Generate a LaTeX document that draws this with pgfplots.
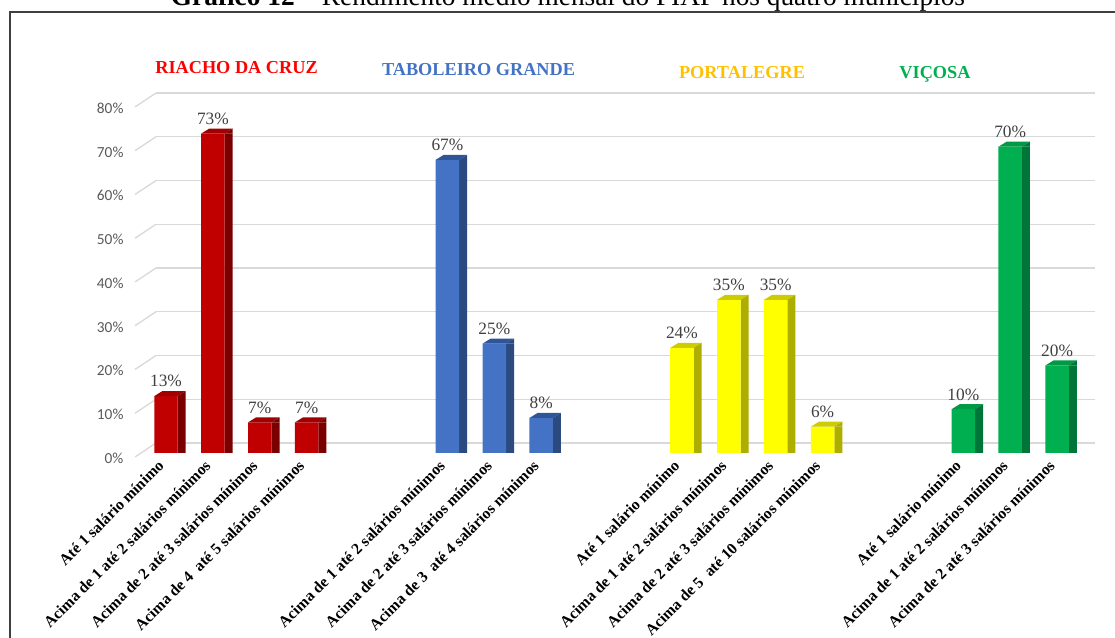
\documentclass[border=0pt]{standalone}
\usepackage{pgfplots}
\pgfplotsset{compat=1.18}
\usepackage{fontspec}
\setmainfont{Liberation Serif}
\newfontfamily\carlito{Carlito}

\definecolor{redF}{HTML}{C00000}\definecolor{redT}{HTML}{A00000}\definecolor{redS}{HTML}{7A0000}
\definecolor{bluF}{HTML}{4472C4}\definecolor{bluT}{HTML}{2F5597}\definecolor{bluS}{HTML}{2A4A80}
\definecolor{yelF}{HTML}{FFFF00}\definecolor{yelT}{HTML}{CCCC00}\definecolor{yelS}{HTML}{AEAE00}
\definecolor{grnF}{HTML}{00B050}\definecolor{grnT}{HTML}{009944}\definecolor{grnS}{HTML}{00753A}
\definecolor{gridc}{HTML}{D9D9D9}
\definecolor{ytc}{HTML}{595959}
\definecolor{lblc}{HTML}{404040}
\definecolor{frame}{HTML}{3F3F3F}
\definecolor{titR}{HTML}{FF0000}\definecolor{titB}{HTML}{4472C4}
\definecolor{titY}{HTML}{FFC000}\definecolor{titG}{HTML}{00B050}

\newcommand\declaretop[3]{%
  \pgfdeclareplotmark{#1}{%
    \pgfsetfillcolor{#2}%
    \pgfpathmoveto{\pgfpoint{-8.8bp}{0bp}}%
    \pgfpathlineto{\pgfpoint{8.8bp}{0bp}}%
    \pgfpathlineto{\pgfpoint{14.8bp}{3.75bp}}%
    \pgfpathlineto{\pgfpoint{-2.8bp}{3.75bp}}%
    \pgfpathclose\pgfusepath{fill}%
    \pgfsetfillcolor{#3}%
    \pgfpathmoveto{\pgfpoint{8.8bp}{0bp}}%
    \pgfpathlineto{\pgfpoint{14.8bp}{3.75bp}}%
    \pgfpathlineto{\pgfpoint{14.8bp}{0bp}}%
    \pgfpathclose\pgfusepath{fill}%
  }}
\declaretop{topR}{redT}{redS}
\declaretop{topB}{bluT}{bluS}
\declaretop{topY}{yelT}{yelS}
\declaretop{topG}{grnT}{grnS}

\begin{document}
\begin{tikzpicture}
\begin{axis}[
  x=35.175bp, y=3.28125bp,
  anchor=origin, at={(124.5bp,138.75bp)},
  xmin=-0.21, xmax=19.8, ymin=-2, ymax=82.3,
  clip=false,
  axis line style={draw=none},
  major tick length=0pt,
  ytick={2.3,12.3,22.3,32.3,42.3,52.3,62.3,72.3,82.3},
  yticklabels={0\%,10\%,20\%,30\%,40\%,50\%,60\%,70\%,80\%},
  ymajorgrids,
  grid style={draw=gridc, line width=1bp},
  yticklabel style={font=\carlito\fontsize{11.5bp}{13bp}\selectfont, text=ytc, xshift=-21bp, yshift=-11.5bp},
  xtick={0,1,2,3,6,7,8,11,12,13,14,17,18,19},
  xticklabels={Até 1 salário mínimo,Acima de 1 até 2 salários mínimos,Acima de 2 até 3 salários mínimos,Acima de 4\ \ até 5 salários mínimos,
    Acima de 1 até 2 salários mínimos,Acima de 2 até 3 salários mínimos,Acima de 3\ \ até 4 salários mínimos,
    Até 1 salário mínimo,Acima de 1 até 2 salários mínimos,Acima de 2 até 3 salários mínimos,Acima de 5\ \ até 10 salários mínimos,
    Até 1 salário mínimo,Acima de 1 até 2 salários mínimos,Acima de 2 até 3 salários mínimos},
  xticklabel style={rotate=45, anchor=east, font=\bfseries\fontsize{11.8bp}{14bp}\selectfont, text=black, xshift=0bp, yshift=2bp},
  /pgf/number format/assume math mode=true,
  lbl/.style={nodes near coords={\pgfmathprintnumber[fixed,precision=0]{\pgfplotspointmeta}\%}},
  every node near coord/.append style={anchor=south, inner sep=0pt, yshift=6.5bp,
     font=\fontsize{13bp}{15bp}\selectfont, text=lblc},
]
\pgfplotsinvokeforeach{0,10,20,30,40,50,60,70,80}{
  \draw[gridc, line width=1bp] ([yshift=7.55bp]axis cs:-0.21,#1) -- ([yshift=-2.95bp]axis cs:-0.66,#1);
}
% Riacho da Cruz
\addplot[ybar, bar width=6bp, bar shift=11.8bp, fill=redS, draw=none] coordinates {(0,13)(1,73)(2,7)(3,7)};
\addplot[ybar, bar width=17.6bp, bar shift=0pt, fill=redF, draw=none, mark=topR, lbl] coordinates {(0,13)(1,73)(2,7)(3,7)};
% Taboleiro Grande
\addplot[ybar, bar width=6bp, bar shift=11.8bp, fill=bluS, draw=none] coordinates {(6,67)(7,25)(8,8)};
\addplot[ybar, bar width=17.6bp, bar shift=0pt, fill=bluF, draw=none, mark=topB, lbl] coordinates {(6,67)(7,25)(8,8)};
% Portalegre
\addplot[ybar, bar width=6bp, bar shift=11.8bp, fill=yelS, draw=none] coordinates {(11,24)(12,35)(13,35)(14,6)};
\addplot[ybar, bar width=17.6bp, bar shift=0pt, fill=yelF, draw=none, mark=topY, lbl] coordinates {(11,24)(12,35)(13,35)(14,6)};
% Viçosa
\addplot[ybar, bar width=6bp, bar shift=11.8bp, fill=grnS, draw=none] coordinates {(17,10)(18,70)(19,20)};
\addplot[ybar, bar width=17.6bp, bar shift=0pt, fill=grnF, draw=none, mark=topG, lbl] coordinates {(17,10)(18,70)(19,20)};
\end{axis}
\draw[frame, line width=1.5bp] (7.5bp,-20bp) -- (7.5bp,469.5bp) -- (870bp,469.5bp);
\node[anchor=base, font=\fontsize{20.5bp}{24bp}\selectfont] at (426bp,474bp)
  {\textbf{Gráfico 12} – Rendimento médio mensal do PIAF nos quatro municípios};
\node[font=\bfseries\fontsize{13.7bp}{16bp}\selectfont, text=titR] at (177.4bp,427.5bp) {RIACHO DA CRUZ};
\node[font=\bfseries\fontsize{13.7bp}{16bp}\selectfont, text=titB] at (358.9bp,426bp) {TABOLEIRO GRANDE};
\node[font=\bfseries\fontsize{13.7bp}{16bp}\selectfont, text=titY] at (556.5bp,423.75bp) {PORTALEGRE};
\node[font=\bfseries\fontsize{13.7bp}{16bp}\selectfont, text=titG] at (701.25bp,423bp) {VIÇOSA};
\pgfresetboundingbox
\useasboundingbox (0,0) rectangle (836.25bp,478.5bp);
\end{tikzpicture}
\end{document}
